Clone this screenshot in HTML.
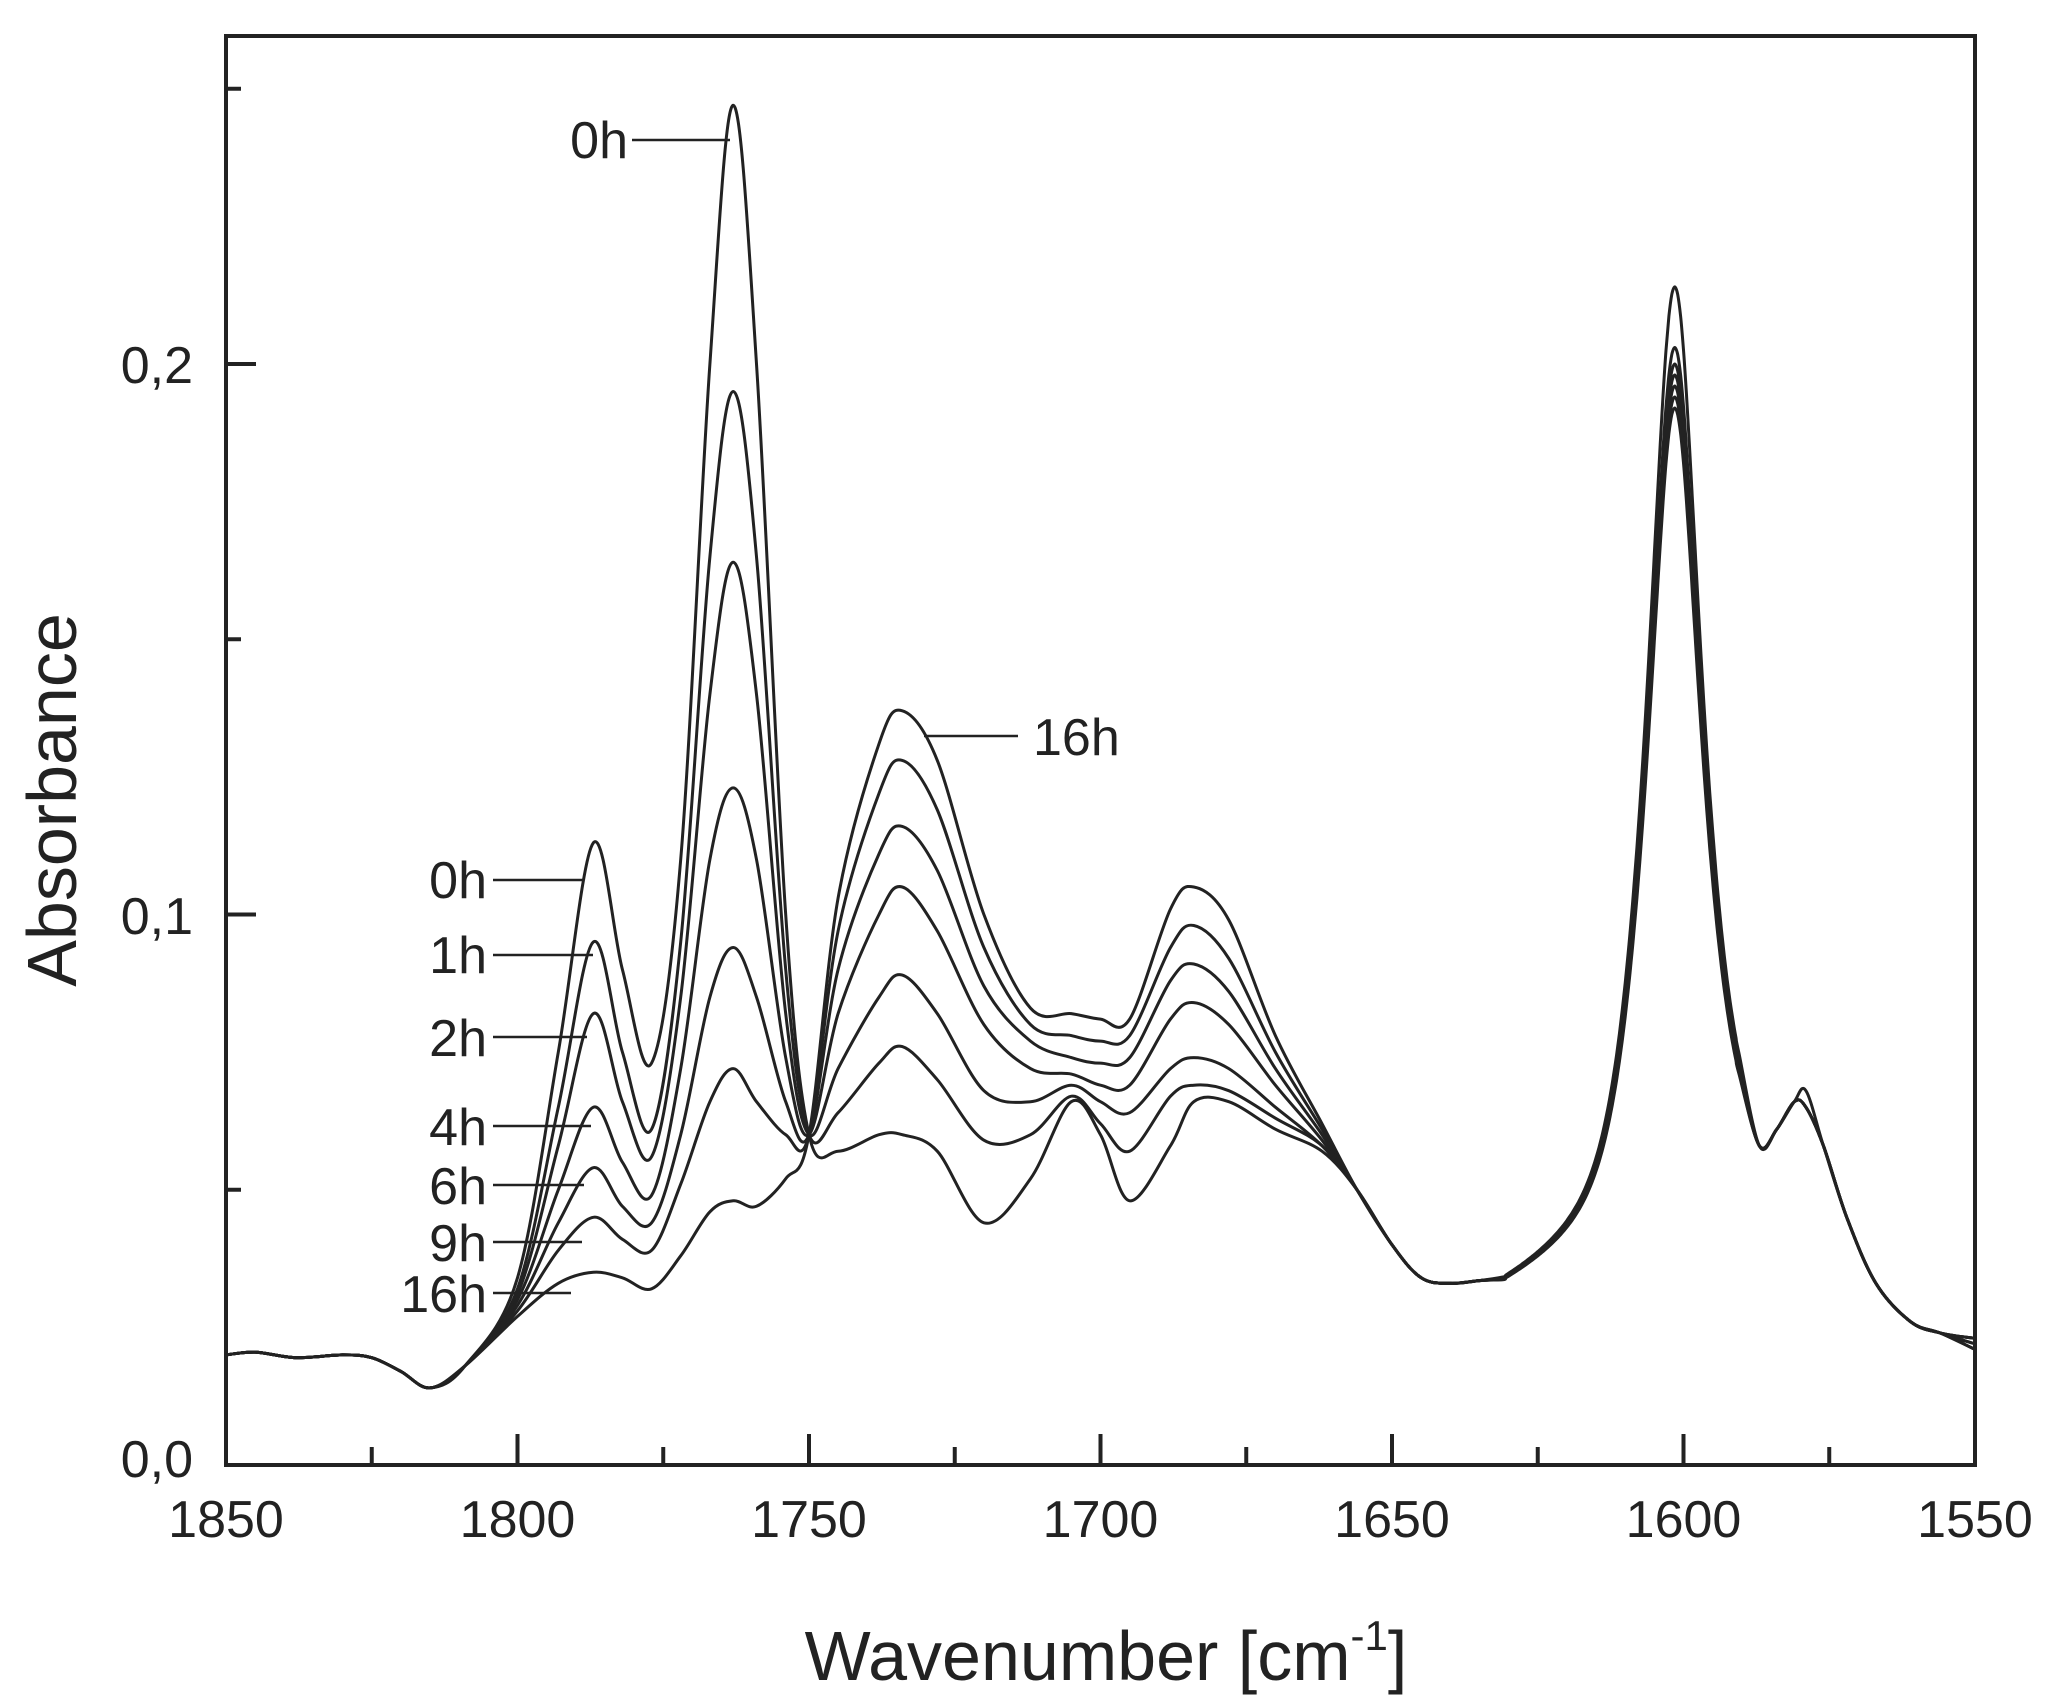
<!DOCTYPE html>
<html><head><meta charset="utf-8">
<style>
html,body{margin:0;padding:0;background:#fff;}
svg{display:block;}
text{font-family:"Liberation Sans",Arial,sans-serif;fill:#222;}
</style></head>
<body>
<svg id="s" width="2068" height="1706" viewBox="0 0 2068 1706" xmlns="http://www.w3.org/2000/svg">
<g id="curves" fill="none" stroke="#222" stroke-width="3" stroke-linejoin="round"></g>
<rect x="226" y="36" width="1749" height="1429" fill="none" stroke="#222" stroke-width="4"/>
<g id="ticks" stroke="#222" stroke-width="4"></g>
<g font-size="52" text-anchor="end">
<text x="193" y="1477">0,0</text>
<text x="193" y="934">0,1</text>
<text x="193" y="383">0,2</text>
</g>
<g id="xl" font-size="52" text-anchor="middle"></g>
<text x="1106" y="1680" font-size="70" text-anchor="middle">Wavenumber [cm<tspan font-size="42" dy="-30">-1</tspan><tspan dy="30">]</tspan></text>
<text transform="translate(76,800) rotate(-90)" font-size="70" text-anchor="middle">Absorbance</text>
<g font-size="52" text-anchor="end">
<text x="628" y="158">0h</text>
<text x="487" y="898">0h</text>
<text x="487" y="973">1h</text>
<text x="487" y="1056">2h</text>
<text x="487" y="1145">4h</text>
<text x="487" y="1204">6h</text>
<text x="487" y="1261">9h</text>
<text x="487" y="1312">16h</text>
</g>
<text x="1033" y="755" font-size="52">16h</text>
<g stroke="#222" stroke-width="2.6">
<line x1="632" y1="140" x2="730" y2="140"/>
<line x1="493" y1="880" x2="584" y2="880"/>
<line x1="493" y1="955" x2="593" y2="955"/>
<line x1="493" y1="1037" x2="587" y2="1037"/>
<line x1="493" y1="1126" x2="591" y2="1126"/>
<line x1="493" y1="1185" x2="584" y2="1185"/>
<line x1="493" y1="1242" x2="582" y2="1242"/>
<line x1="493" y1="1293" x2="571" y2="1293"/>
<line x1="924" y1="736" x2="1018" y2="736"/>
</g>
</svg>
<script>
var L=226,R=1975,B=1465,K=5505;
function X(w){return L+(1850-w)*(R-L)/300;}
function Y(a){return B-a*K;}
var NS="http://www.w3.org/2000/svg";
var tk=document.getElementById('ticks'),xl=document.getElementById('xl');
function ln(x1,y1,x2,y2){var l=document.createElementNS(NS,'line');l.setAttribute('x1',x1);l.setAttribute('y1',y1);l.setAttribute('x2',x2);l.setAttribute('y2',y2);tk.appendChild(l);}
for(var w=1850;w>=1550;w-=25){var x=X(w),maj=(w%50==0);ln(x,B,x,B-(maj?31:18));
 if(maj){var t=document.createElementNS(NS,'text');t.setAttribute('x',x);t.setAttribute('y',1537);t.textContent=w;xl.appendChild(t);}}
for(var a=0.05;a<0.26;a+=0.05){var y=Y(a),maj=Math.abs(a*10-Math.round(a*10))<1e-6;ln(L,y,L+(maj?30:15),y);}
var pre=[[1850,.020],[1845,.0205],[1838,.0195],[1830,.020],[1825,.0195],[1820,.017],[1815,.014],[1809,.018]];
var xs=[1800,1793,1787,1782,1777,1772,1767,1763,1759,1754,1750,1745,1738,1734,1728,1720,1712,1705,1700,1695,1688,1684,1678,1670,1662];
var S=[
[.034,.075,.113,.090,.073,.110,.200,.247,.200,.100,.060,.057,.060,.060,.057,.044,.052,.066,.060,.048,.058,.066,.066,.061,.057],
[.032,.065,.095,.075,.061,.095,.165,.195,.165,.090,.060,.064,.073,.076,.070,.059,.060,.067,.062,.057,.067,.069,.068,.063,.058],
[.031,.058,.082,.066,.056,.085,.140,.164,.140,.082,.060,.072,.085,.089,.082,.068,.066,.069,.066,.064,.072,.074,.072,.065,.058],
[.030,.050,.065,.055,.049,.072,.110,.123,.110,.074,.060,.082,.100,.105,.097,.080,.072,.071,.069,.069,.081,.084,.080,.069,.059],
[.029,.044,.054,.047,.044,.060,.085,.094,.085,.066,.060,.090,.111,.116,.108,.087,.077,.074,.073,.074,.088,.091,.086,.072,.060],
[.028,.039,.045,.041,.039,.051,.066,.072,.066,.060,.060,.097,.122,.128,.119,.094,.080,.078,.077,.078,.094,.098,.092,.075,.061],
[.027,.033,.035,.034,.032,.038,.046,.048,.047,.052,.060,.103,.131,.137,.128,.100,.083,.082,.081,.081,.101,.105,.099,.078,.062]];
var P=[.214,.203,.200,.198,.196,.194,.192];
var g=document.getElementById('curves');
for(var i=0;i<7;i++){
 var pts=pre.slice();
 for(var j=0;j<xs.length;j++)pts.push([xs[j],S[i][j]]);
 var p=P[i];
 var tail=[[1656,.050],[1650,.040],[1645,.034],[1640,.033],[1635,.0335]];
 var gam=5.2,c=1601.5;
 for(var w=1631;w>=1590.5;w-=0.5){
   var bg=0.030+(1631-w)/40*0.016;
   var dx=w-c;
   var lz=(p-bg)*(0.75*gam*gam/(dx*dx+gam*gam)+0.25*Math.exp(-dx*dx/(2*5.5*5.5)));
   tail.push([w,bg+lz]);
 }
 tail=tail.concat([[1587,.058],[1584,.061],[1581,.066],[1579,.068-(i?0.003:0)],[1576,.058],[1572,.045],[1567,.033],[1561,.026],[1556,.024],[1550,.023-(i%3)*0.001]]);
 pts=pts.concat(tail);
 var q=pts.map(function(v){return [X(v[0]),Y(v[1])];});
 var d="M"+q[0][0].toFixed(1)+","+q[0][1].toFixed(1);
 for(var k=0;k<q.length-1;k++){
  var p0=q[Math.max(k-1,0)],p1=q[k],p2=q[k+1],p3=q[Math.min(k+2,q.length-1)];
  var c1=[p1[0]+(p2[0]-p0[0])/6,p1[1]+(p2[1]-p0[1])/6],c2=[p2[0]-(p3[0]-p1[0])/6,p2[1]-(p3[1]-p1[1])/6];
  d+=" C"+c1[0].toFixed(1)+","+c1[1].toFixed(1)+" "+c2[0].toFixed(1)+","+c2[1].toFixed(1)+" "+p2[0].toFixed(1)+","+p2[1].toFixed(1);
 }
 var pa=document.createElementNS(NS,'path');pa.setAttribute('d',d);g.appendChild(pa);
}
</script>
</body></html>
